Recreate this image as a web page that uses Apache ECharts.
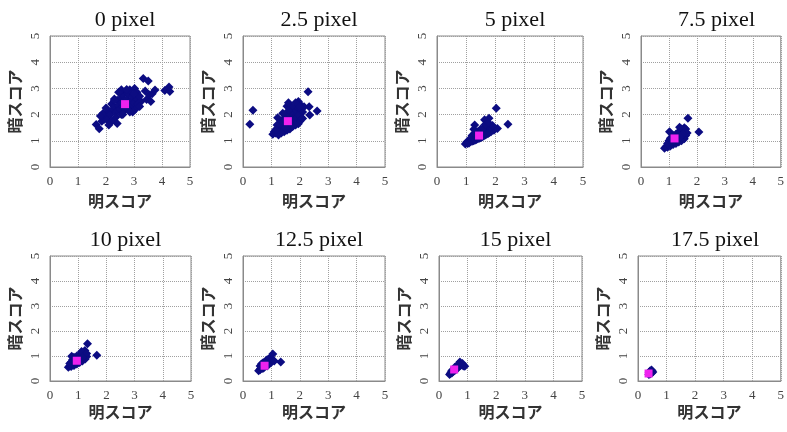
<!DOCTYPE html>
<html>
<head>
<meta charset="utf-8">
<script src="https://cdn.jsdelivr.net/npm/echarts@6/dist/echarts.min.js"></script>
<style>html,body{margin:0;padding:0;background:#fff;}#c{width:787px;height:432px;}</style>
</head>
<body>
<div id="c"></div>
<script>
const titles = ['0 pixel','2.5 pixel','5 pixel','7.5 pixel','10 pixel','12.5 pixel','15 pixel','17.5 pixel'];
const xName = '明スコア';
const yName = '暗スコア';
const tickValues = [0,1,2,3,4,5];

const p00 = [[1.65,1.62],[1.76,1.46],[1.85,1.75],[1.95,1.82],[2.0,1.95],[2.05,1.8],[1.9,2.05],[2.1,2.1],[2.15,2.0],[2.2,1.75],[2.25,2.2],[2.2,2.4],[2.3,2.3],[2.35,2.1],[2.4,2.55],[2.45,2.35],[2.5,2.2],[2.5,2.6],[2.55,2.45],[2.6,2.3],[2.6,2.75],[2.65,2.55],[2.7,2.2],[2.7,2.9],[2.75,2.6],[2.8,2.4],[2.8,2.8],[2.85,2.95],[2.9,2.55],[2.9,2.3],[2.95,2.7],[3.02,3.0],[3.0,2.45],[3.05,2.2],[3.1,2.6],[3.1,2.85],[3.15,2.4],[3.2,2.7],[3.25,2.5],[3.33,3.38],[3.4,2.9],[3.45,2.58],[3.51,3.28],[3.55,2.75],[3.6,2.5],[3.65,2.8],[3.75,2.94],[4.1,2.92],[4.25,3.05],[4.28,2.88],[2.35,1.9],[2.55,2.0],[2.4,1.66],[2.6,2.0],[2.0,2.25],[1.8,1.95],[2.3,2.6],[2.55,2.95],[2.45,2.85],[2.3,2.55],[3.0,2.8],[2.95,2.1],[2.75,2.25],[2.85,2.1],[2.1,1.6],[2.74,2.96],[3.2,2.31]];
const p25 = [[0.24,1.63],[0.35,2.17],[2.29,2.87],[2.33,2.3],[2.61,2.14],[2.35,1.98],[1.22,1.88],[1.55,2.32],[1.05,1.25],[1.1,1.35],[1.15,1.3],[1.2,1.45],[1.25,1.38],[1.3,1.5],[1.35,1.42],[1.4,1.6],[1.45,1.5],[1.5,1.7],[1.55,1.58],[1.6,1.8],[1.65,1.65],[1.7,1.9],[1.75,1.72],[1.8,2.0],[1.85,1.85],[1.9,2.2],[1.95,2.0],[2.0,2.4],[1.95,2.5],[1.9,2.35],[1.85,2.45],[1.8,2.2],[1.75,2.1],[1.7,2.3],[1.65,2.05],[1.6,2.15],[1.5,1.95],[1.45,1.85],[1.4,2.05],[1.35,1.75],[1.3,1.65],[1.2,1.6],[2.05,2.2],[2.1,2.1],[2.05,1.9],[2.0,1.75],[1.95,1.65],[1.85,1.6],[1.75,1.55],[1.65,1.45],[1.55,1.4],[1.45,1.35],[1.35,1.3],[1.25,1.22],[1.6,2.45],[2.15,2.3],[2.1,1.85],[1.5,1.5],[1.15,1.42],[2.0,2.3]];
const p50 = [[0.97,0.88],[1.02,0.95],[1.05,0.9],[1.1,1.0],[1.15,0.97],[1.2,1.05],[1.25,1.0],[1.3,1.12],[1.35,1.05],[1.4,1.18],[1.45,1.1],[1.5,1.25],[1.55,1.15],[1.6,1.3],[1.65,1.22],[1.7,1.35],[1.75,1.28],[1.8,1.42],[1.85,1.35],[1.9,1.45],[1.95,1.4],[1.2,1.2],[1.3,1.3],[1.4,1.35],[1.5,1.45],[1.6,1.5],[1.55,1.4],[1.45,1.3],[1.35,1.22],[1.25,1.15],[1.15,1.1],[1.1,0.92],[1.2,0.98],[1.3,1.02],[1.4,1.08],[1.5,1.12],[1.6,1.18],[1.7,1.25],[1.8,1.32],[2.03,2.24],[2.43,1.63],[1.78,1.86],[1.63,1.8],[1.29,1.6],[1.26,1.44],[2.07,1.47],[1.83,1.53],[1.72,1.6],[1.9,1.58],[1.65,1.62],[1.75,1.7]];
const p75 = [[0.84,0.72],[0.9,0.78],[0.95,0.75],[1.0,0.85],[1.05,0.8],[1.1,0.9],[1.15,0.86],[1.2,0.95],[1.25,0.9],[1.3,1.0],[1.35,0.95],[1.4,1.05],[1.45,1.0],[1.5,1.12],[1.55,1.08],[1.6,1.2],[1.0,1.0],[1.05,1.1],[1.1,1.05],[1.15,1.2],[1.2,1.15],[1.25,1.25],[1.3,1.2],[1.35,1.35],[1.4,1.3],[1.45,1.45],[1.5,1.4],[1.55,1.5],[1.6,1.45],[1.38,1.52],[1.02,1.35],[1.68,1.86],[2.07,1.34],[1.65,1.3],[0.95,0.9],[1.1,0.95],[1.3,1.1],[1.5,1.25],[1.45,1.2],[1.25,1.05],[1.15,1.0],[1.4,1.15]];
const p100 = [[0.65,0.55],[0.7,0.6],[0.75,0.58],[0.8,0.65],[0.85,0.62],[0.9,0.72],[0.95,0.68],[1.0,0.78],[1.05,0.74],[1.1,0.85],[1.15,0.8],[1.2,0.92],[1.25,0.88],[1.3,0.98],[0.75,0.75],[0.8,0.85],[0.85,0.95],[0.77,0.99],[0.9,0.9],[0.95,1.0],[1.0,0.95],[1.05,1.05],[1.1,1.0],[1.15,1.1],[1.2,1.05],[1.24,1.22],[1.12,1.18],[1.33,1.49],[1.66,1.03],[1.3,1.1],[0.7,0.7],[0.85,0.78],[1.0,0.88],[1.15,0.95]];
const p125 = [[0.55,0.41],[0.6,0.45],[0.62,0.5],[0.65,0.55],[0.7,0.5],[0.72,0.6],[0.75,0.55],[0.8,0.65],[0.85,0.6],[0.88,0.72],[0.92,0.68],[0.95,0.8],[1.0,0.75],[0.6,0.6],[0.65,0.68],[0.7,0.72],[0.75,0.75],[0.8,0.8],[0.85,0.85],[0.9,0.88],[0.96,0.92],[1.02,0.85],[1.05,1.08],[1.33,0.76],[1.1,0.8],[0.68,0.62],[0.78,0.7]];
const p150 = [[0.37,0.26],[0.4,0.3],[0.42,0.35],[0.45,0.32],[0.48,0.4],[0.5,0.38],[0.52,0.45],[0.55,0.42],[0.58,0.5],[0.6,0.48],[0.63,0.55],[0.66,0.52],[0.7,0.6],[0.73,0.76],[0.75,0.62],[0.8,0.65],[0.85,0.6],[0.9,0.59],[0.82,0.7],[0.45,0.42],[0.55,0.55],[0.68,0.68]];
const p175 = [[0.38,0.26],[0.4,0.3],[0.42,0.28],[0.44,0.34],[0.46,0.38],[0.48,0.32],[0.5,0.4],[0.52,0.36],[0.47,0.44],[0.42,0.4],[0.39,0.35]];
const panels = [p00, p25, p50, p75, p100, p125, p150, p175];
const means = [[2.68,2.4],[1.58,1.75],[1.44,1.2],[1.2,1.09],[0.95,0.81],[0.76,0.61],[0.53,0.46],[0.37,0.3]];

const lefts = [50, 243, 437, 641, 50, 243, 439, 638];
const widths = [140, 142, 146, 141, 141, 142, 143, 144];
const tops = [36, 36, 36, 36, 256, 256, 256, 256];
const heights = [131, 131, 131, 131, 125, 125, 125, 125];

const grid = [], xAxis = [], yAxis = [], series = [], title = [];
for (let i = 0; i < 8; i++) {
  grid.push({left: lefts[i], top: tops[i], width: widths[i], height: heights[i],
    show: true, borderColor: '#8a8a8a', borderWidth: 1, backgroundColor: '#fff'});
  title.push({text: titles[i], left: lefts[i] + widths[i] / 2, top: tops[i] - 32, textAlign: 'center',
    textStyle: {fontFamily: 'Liberation Serif', fontSize: 22, fontWeight: 'normal', color: '#111'}});
  const row2 = i >= 4;
  xAxis.push({gridIndex: i, type: 'value', min: tickValues[0], max: tickValues[tickValues.length-1], interval: 1,
    name: xName, nameLocation: 'middle', nameGap: row2 ? 23 : 26,
    nameTextStyle: {fontFamily: 'Noto Sans CJK JP', fontWeight: 'bold', fontSize: 16, color: '#333'},
    axisLine: {show: true, lineStyle: {color: '#8a8a8a'}}, axisTick: {show: false},
    axisLabel: {fontFamily: 'Liberation Serif', fontSize: 13, color: '#444', margin: 8},
    splitLine: {show: true, lineStyle: {type: 'dotted', color: '#a0a0a0'}}});
  yAxis.push({gridIndex: i, type: 'value', min: tickValues[0], max: tickValues[tickValues.length-1], interval: 1,
    name: yName, nameLocation: 'middle', nameGap: 27, nameRotate: 90,
    nameTextStyle: {fontFamily: 'Noto Sans CJK JP', fontWeight: 'bold', fontSize: 16, color: '#333'},
    axisLine: {show: true, lineStyle: {color: '#8a8a8a'}}, axisTick: {show: false},
    axisLabel: {fontFamily: 'Liberation Serif', fontSize: 13, color: '#444', margin: 8, rotate: 90},
    splitLine: {show: true, lineStyle: {type: 'dotted', color: '#a0a0a0'}}});
  series.push({type: 'scatter', xAxisIndex: i, yAxisIndex: i, data: panels[i], symbol: 'diamond', symbolSize: 9,
    itemStyle: {color: '#0c0c82', opacity: 1}, silent: true, animation: false});
  series.push({type: 'scatter', xAxisIndex: i, yAxisIndex: i, data: [means[i]], symbol: 'rect', symbolSize: 8,
    itemStyle: {color: '#ee22ee', opacity: 1}, z: 5, silent: true, animation: false});
}
const chart = echarts.init(document.getElementById('c'), null, {renderer: 'canvas'});
chart.setOption({backgroundColor: '#fff', animation: false, title, grid, xAxis, yAxis, series});
</script>
</body>
</html>
